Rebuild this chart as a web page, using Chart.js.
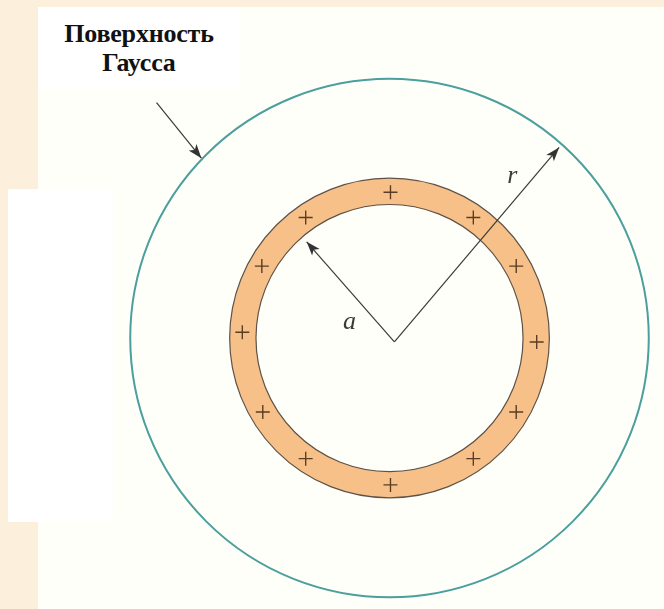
<!DOCTYPE html>
<html>
<head>
<meta charset="utf-8">
<script src="https://cdn.jsdelivr.net/npm/chart.js@4"></script>
<style>
  html, body { margin: 0; padding: 0; }
  body { width: 664px; height: 609px; background: #fcefdb; position: relative; overflow: hidden; }
  #paper { position: absolute; left: 38px; top: 7px; width: 626px; height: 602px; background: #fffff9; }
  #blank { position: absolute; left: 8px; top: 189px; width: 105px; height: 333px; background: #ffffff; }
  #label {
    position: absolute; left: 38px; top: 7px; width: 202px; height: 83px; background: #ffffff;
    font-family: "Liberation Serif", serif; font-weight: bold; font-size: 26px;
    line-height: 29px; text-align: center; color: #111; padding-top: 12px; box-sizing: border-box;
    letter-spacing: -0.2px;
  }
  #chart { position: absolute; left: 0; top: 0; }
</style>
</head>
<body>
<div id="paper"></div>
<div id="blank"></div>
<div id="label">Поверхность<br>Гаусса</div>
<canvas id="chart" width="664" height="609"></canvas>
<script>
// diagram units = picture pixels, y pointing down
const center = { x: 391, y: 339 };
const apex = { x: 396, y: 343 };
const gaussRadius = 266;
const ringOuter = 164;
const ringInner = 137;

// plus signs on the charged shell
const plusX = [392, 305, 477, 260, 521, 240, 542, 261, 521, 305, 477, 392];
const plusY = [189, 215, 215, 265, 265, 333, 343, 415, 415, 463, 463, 490];

// arrows: [start, end]
const arrowGauss = [{ x: 152, y: 97 }, { x: 198, y: 154 }];
const arrowA = [apex, { x: 306, y: 240 }];
const arrowR = [apex, { x: 565, y: 143 }];

const labels = [
  { text: 'a', x: 350, y: 330 },
  { text: 'r', x: 517, y: 180 }
];

// circles + arrow heads + letters, all placed through the scales
const diagramPlugin = {
  id: 'diagram',
  beforeDatasetsDraw(chart) {
    const ctx = chart.ctx;
    const sx = chart.scales.x, sy = chart.scales.y;
    const cx = sx.getPixelForValue(center.x), cy = sy.getPixelForValue(center.y);
    const px = r => sx.getPixelForValue(center.x + r) - cx;

    ctx.save();
    // orange shell
    ctx.beginPath();
    ctx.arc(cx, cy, px(ringOuter), 0, Math.PI * 2);
    ctx.arc(cx, cy, px(ringInner), 0, Math.PI * 2, true);
    ctx.fillStyle = '#f7c088';
    ctx.fill('evenodd');
    ctx.strokeStyle = '#5e5248';
    ctx.lineWidth = 1.2;
    ctx.beginPath();
    ctx.arc(cx, cy, px(ringOuter), 0, Math.PI * 2);
    ctx.stroke();
    ctx.beginPath();
    ctx.arc(cx, cy, px(ringInner), 0, Math.PI * 2);
    ctx.stroke();

    // gaussian surface
    ctx.beginPath();
    ctx.arc(cx, cy, px(gaussRadius), 0, Math.PI * 2);
    ctx.strokeStyle = '#4b9f9c';
    ctx.lineWidth = 2;
    ctx.stroke();
    ctx.restore();
  },
  afterDatasetsDraw(chart) {
    const ctx = chart.ctx;
    const sx = chart.scales.x, sy = chart.scales.y;
    ctx.save();
    ctx.fillStyle = '#333';
    for (const a of [arrowGauss, arrowA, arrowR]) {
      const x0 = sx.getPixelForValue(a[0].x), y0 = sy.getPixelForValue(a[0].y);
      const x1 = sx.getPixelForValue(a[1].x), y1 = sy.getPixelForValue(a[1].y);
      const ang = Math.atan2(y1 - y0, x1 - x0);
      const len = 14, half = 5;
      ctx.beginPath();
      ctx.moveTo(x1, y1);
      ctx.lineTo(x1 - len * Math.cos(ang) + half * Math.sin(ang), y1 - len * Math.sin(ang) - half * Math.cos(ang));
      ctx.lineTo(x1 - len * 0.75 * Math.cos(ang), y1 - len * 0.75 * Math.sin(ang));
      ctx.lineTo(x1 - len * Math.cos(ang) - half * Math.sin(ang), y1 - len * Math.sin(ang) + half * Math.cos(ang));
      ctx.closePath();
      ctx.fill();
    }
    ctx.font = 'italic 26px "Liberation Serif", serif';
    ctx.fillStyle = '#3a3a3a';
    ctx.textAlign = 'center';
    for (const l of labels) {
      ctx.fillText(l.text, sx.getPixelForValue(l.x), sy.getPixelForValue(l.y));
    }
    ctx.restore();
  }
};

const lineDs = (pts) => ({
  type: 'line',
  data: pts,
  borderColor: '#3a3a3a',
  borderWidth: 1.2,
  pointRadius: 0,
  fill: false
});

new Chart(document.getElementById('chart'), {
  type: 'scatter',
  data: {
    datasets: [
      {
        data: plusX.map((x, i) => ({ x: x, y: plusY[i] })),
        pointStyle: 'cross',
        pointRadius: 7,
        borderColor: '#5a3d22',
        borderWidth: 1.4,
        backgroundColor: '#5a3d22'
      },
      lineDs(arrowGauss),
      lineDs(arrowA),
      lineDs(arrowR)
    ]
  },
  options: {
    responsive: false,
    animation: false,
    layout: { padding: 0 },
    plugins: { legend: { display: false }, tooltip: { enabled: false } },
    scales: {
      x: { type: 'linear', min: 0, max: 664, display: false },
      y: { type: 'linear', min: 0, max: 609, reverse: true, display: false }
    }
  },
  plugins: [diagramPlugin]
});
</script>
</body>
</html>
